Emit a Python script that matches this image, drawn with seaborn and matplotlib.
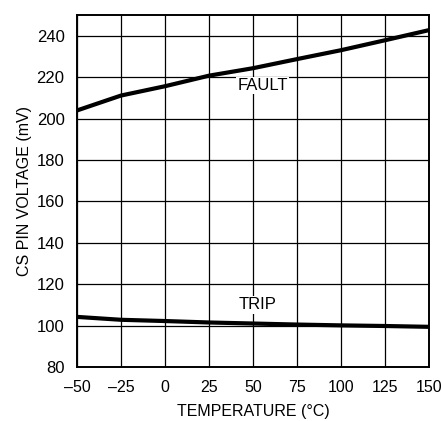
import numpy as np
import pandas as pd
import seaborn as sns
import matplotlib.pyplot as plt

sns.set_style("white")
plt.rcParams['font.family'] = ['Liberation Sans', 'DejaVu Sans']
plt.rcParams['text.color'] = 'black'
plt.rcParams['axes.labelcolor'] = 'black'
plt.rcParams['xtick.color'] = 'black'
plt.rcParams['ytick.color'] = 'black'

# temperature (°C) vs CS pin voltage (mV)
temp = [-50, -25, 0, 25, 50, 75, 100, 125, 150]
fault = [203.9, 211.1, 215.6, 220.7, 224.3, 228.7, 233.0, 237.8, 242.7]
trip = [104.2, 102.8, 102.2, 101.5, 101.0, 100.5, 100.1, 99.8, 99.4]
xticks = [-50, -25, 0, 25, 50, 75, 100, 125, 150]
yticks = [80, 100, 120, 140, 160, 180, 200, 220, 240]

df = pd.DataFrame({"temp": temp * 2,
                   "mv": fault + trip,
                   "curve": ["FAULT"] * len(temp) + ["TRIP"] * len(temp)})

fig = plt.figure(figsize=(4.41, 4.21), dpi=100)
ax = fig.add_axes([77 / 441, 1 - 367 / 421, 352 / 441, 352 / 421])

sns.lineplot(data=df, x="temp", y="mv", units="curve", estimator=None,
             color="black", lw=3, ax=ax, zorder=3)

ax.set_xlim(-50, 150)
ax.set_ylim(80, 250)
ax.set_xticks(xticks)
ax.set_xticklabels([str(t).replace("-", "\u2013") for t in xticks])
ax.set_yticks(yticks)
ax.grid(True, color="black", lw=0.9)
ax.tick_params(axis="x", length=0, labelsize=11.5, pad=9)
ax.tick_params(axis="y", length=0, labelsize=12, pad=9)
for s in ax.spines.values():
    s.set_color("black")
    s.set_linewidth(1.4)

ax.text(55.5, 216, "FAULT", ha="center", va="center", fontsize=12,
        bbox=dict(facecolor="white", edgecolor="none", pad=1), zorder=4)
ax.text(52.5, 110, "TRIP", ha="center", va="center", fontsize=12,
        bbox=dict(facecolor="white", edgecolor="none", pad=1), zorder=4)

ax.set_xlabel("TEMPERATURE (°C)", fontsize=11.5, labelpad=7)
ax.set_ylabel("CS PIN VOLTAGE (mV)", fontsize=11.5, labelpad=3)

fig.savefig("out.png", dpi=100)
